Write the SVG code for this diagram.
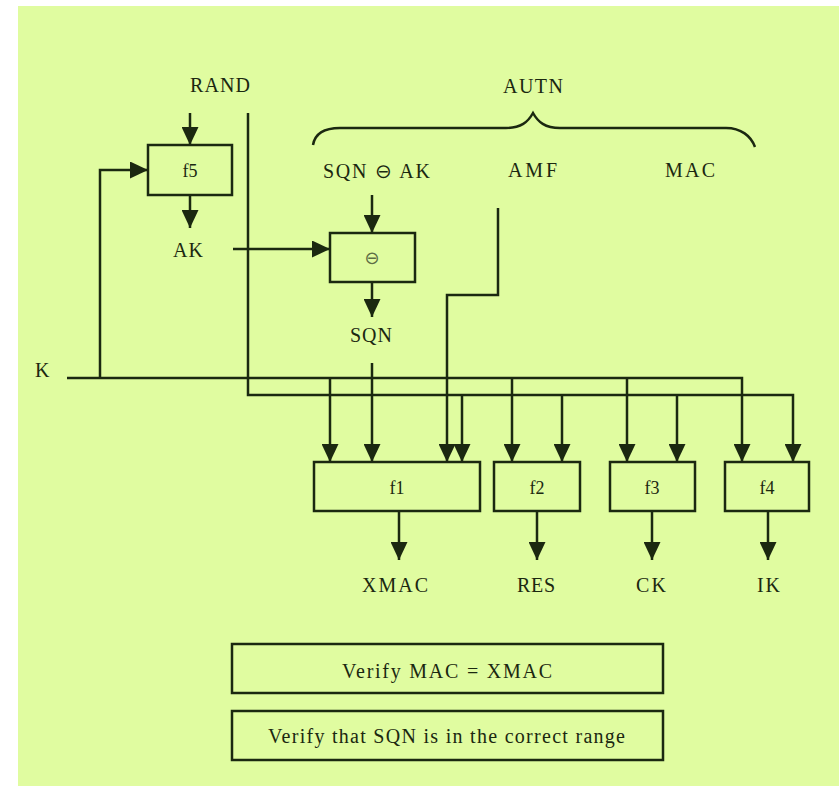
<svg xmlns="http://www.w3.org/2000/svg" width="839" height="786" viewBox="0 0 839 786">
<style>
.bg{fill:#e0fca0}
.ln{fill:none;stroke:#1b2810;stroke-width:2.5}
.bx{fill:none;stroke:#1b2810;stroke-width:2.5}
.t{font-family:"Liberation Serif","Times New Roman",serif;font-size:20px;fill:#1b2810}
.f{font-family:"Liberation Serif","Times New Roman",serif;font-size:18px;fill:#1b2810;text-anchor:middle}
.sym{font-family:"DejaVu Sans",sans-serif;font-size:18px;fill:#5d6e45;text-anchor:middle}
</style>
<defs>
<marker id="ah" viewBox="0 0 18 17" refX="18" refY="8.5" markerWidth="18" markerHeight="17" orient="auto" markerUnits="userSpaceOnUse">
<path d="M0,0 L18,8.5 L0,17 Z" fill="#1b2810"/>
</marker>
</defs>
<rect class="bg" x="18" y="6" width="821" height="780"/>

<g id="labels-top">
<text class="t" x="190" y="92" textLength="60" lengthAdjust="spacing">RAND</text>
<text class="t" x="503" y="93" textLength="60" lengthAdjust="spacing">AUTN</text>
<text class="t" x="323" y="178" textLength="107" lengthAdjust="spacing">SQN ⊖ AK</text>
<text class="t" x="508" y="177" textLength="49" lengthAdjust="spacing">AMF</text>
<text class="t" x="665" y="177" textLength="50" lengthAdjust="spacing">MAC</text>
<text class="t" x="173" y="257" textLength="30" lengthAdjust="spacing">AK</text>
<text class="t" x="350" y="342" textLength="42" lengthAdjust="spacing">SQN</text>
<text class="t" x="35" y="377">K</text>
</g>

<g id="f5">
<rect class="bx" x="148" y="145" width="84" height="50"/>
<text class="f" x="190" y="177">f5</text>
</g>
<g id="xor">
<rect class="bx" x="330" y="233" width="85" height="49"/>
<text class="sym" x="372" y="264">⊖</text>
</g>
<g id="f1">
<rect class="bx" x="314" y="462" width="166" height="49"/>
<text class="f" x="397" y="494">f1</text>
</g>
<g id="f2">
<rect class="bx" x="494" y="462" width="86" height="49"/>
<text class="f" x="537" y="494">f2</text>
</g>
<g id="f3">
<rect class="bx" x="610" y="462" width="85" height="49"/>
<text class="f" x="652" y="494">f3</text>
</g>
<g id="f4">
<rect class="bx" x="725" y="462" width="84" height="49"/>
<text class="f" x="767" y="494">f4</text>
</g>

<g id="outputs">
<text class="t" x="362" y="592" textLength="66" lengthAdjust="spacing">XMAC</text>
<text class="t" x="517" y="592" textLength="38" lengthAdjust="spacing">RES</text>
<text class="t" x="636" y="592" textLength="30" lengthAdjust="spacing">CK</text>
<text class="t" x="757" y="592" textLength="23" lengthAdjust="spacing">IK</text>
</g>

<g id="verify1">
<rect class="bx" x="232" y="644" width="431" height="49"/>
<text class="t" x="342" y="678" textLength="210" lengthAdjust="spacing">Verify MAC = XMAC</text>
</g>
<g id="verify2">
<rect class="bx" x="232" y="711" width="431" height="49"/>
<text class="t" x="268" y="743" textLength="357" lengthAdjust="spacing">Verify that SQN is in the correct range</text>
</g>

<g id="connectors">
<path class="ln" d="M313,145 C315,133 325,128 340,128 L506,128 C521,128 528,122 533,113 C538,122 545,128 560,128 L726,128 C741,128 751,136 755,147"/>
<path class="ln" d="M190,113 V145" marker-end="url(#ah)"/>
<path class="ln" d="M190,195 V228" marker-end="url(#ah)"/>
<path class="ln" d="M233,249 H330" marker-end="url(#ah)"/>
<path class="ln" d="M372,195 V233" marker-end="url(#ah)"/>
<path class="ln" d="M372,282 V317" marker-end="url(#ah)"/>
<path class="ln" d="M100,378 V170 H148" marker-end="url(#ah)"/>
<path class="ln" d="M67,378 H742 V462" marker-end="url(#ah)"/>
<path class="ln" d="M330,378 V462" marker-end="url(#ah)"/>
<path class="ln" d="M512,378 V462" marker-end="url(#ah)"/>
<path class="ln" d="M627,378 V462" marker-end="url(#ah)"/>
<path class="ln" d="M248,113 V395 H793 V462" marker-end="url(#ah)"/>
<path class="ln" d="M462,395 V462" marker-end="url(#ah)"/>
<path class="ln" d="M562,395 V462" marker-end="url(#ah)"/>
<path class="ln" d="M677,395 V462" marker-end="url(#ah)"/>
<path class="ln" d="M372,363 V462" marker-end="url(#ah)"/>
<path class="ln" d="M498,208 V295 H447 V462" marker-end="url(#ah)"/>
<path class="ln" d="M399,511 V560" marker-end="url(#ah)"/>
<path class="ln" d="M537,511 V560" marker-end="url(#ah)"/>
<path class="ln" d="M652,511 V560" marker-end="url(#ah)"/>
<path class="ln" d="M768,511 V560" marker-end="url(#ah)"/>
</g>
</svg>
